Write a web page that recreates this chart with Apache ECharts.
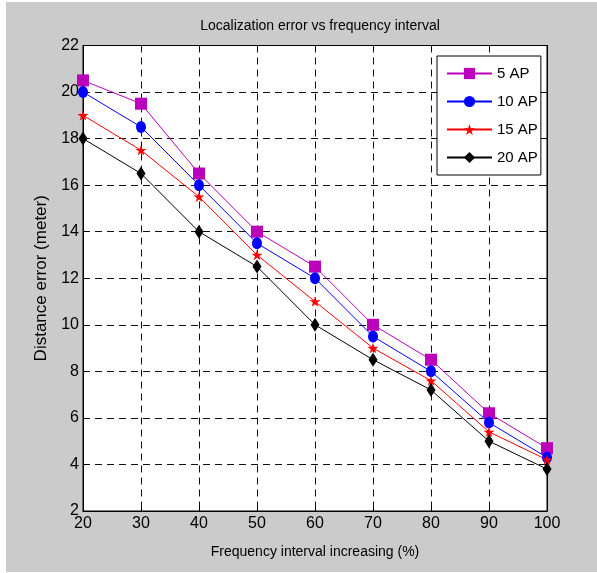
<!DOCTYPE html>
<html>
<head>
<meta charset="utf-8">
<script src="https://cdn.jsdelivr.net/npm/echarts@6/dist/echarts.min.js"></script>
<style>
  html, body { margin: 0; padding: 0; background: #ffffff; }
  #chart { position: absolute; left: 6px; top: 2px; width: 591px; height: 570px; background: #cbcbcb; }
</style>
</head>
<body>
<div id="chart"></div>
<script>
// Frequency interval increase (%) on the x axis
const intervals = [20, 30, 40, 50, 60, 70, 80, 90, 100];
// Distance error (meter) for each number of access points
const ap5 = [20.5, 19.5, 16.5, 14, 12.5, 10, 8.5, 6.2, 4.7];
const ap10 = [20, 18.5, 16, 13.5, 12, 9.5, 8, 5.8, 4.3];
const ap15 = [19, 17.5, 15.5, 13, 11, 9, 7.6, 5.4, 4.2];
const ap20 = [18, 16.5, 14, 12.5, 10, 8.5, 7.2, 5.0, 3.8];
const seriesNames = ['5 AP', '10 AP', '15 AP', '20 AP'];

const FONT = '"Liberation Sans", Arial, sans-serif';
const STAR = 'path://M50,0 L61,35 L98,35 L68,57 L79,91 L50,70 L21,91 L32,57 L2,35 L39,35 Z';

function pairs(ys) {
  return intervals.map((x, i) => [x, ys[i]]);
}

function lineSeries(name, ys, color, symbol, size) {
  return {
    name: name,
    type: 'line',
    data: pairs(ys),
    symbol: symbol,
    symbolSize: size,
    symbolKeepAspect: true,
    showAllSymbol: true,
    lineStyle: { color: color, width: 1 },
    itemStyle: { color: color, borderWidth: 0 },
    emphasis: { disabled: true },
    animation: false,
    z: 3
  };
}

const gridLine = { show: true, lineStyle: { color: '#111', width: 1, type: [7, 5] } };
const tickIn = { show: true, inside: true, length: 5, lineStyle: { color: '#000', width: 1 } };
const labelStyle = { color: '#000', fontFamily: FONT, fontSize: 16 };

const chart = echarts.init(document.getElementById('chart'), null, { renderer: 'canvas' });
chart.setOption({
  animation: false,
  title: {
    text: 'Localization error vs frequency interval',
    left: 309,
    top: 12,
    textAlign: 'center',
    textStyle: { fontFamily: FONT, fontSize: 14, fontWeight: 'normal', color: '#000' }
  },
  legend: {
    data: seriesNames,
    orient: 'vertical',
    left: 431,
    top: 54,
    itemWidth: 45,
    itemHeight: 14,
    itemGap: 13,
    padding: [10, 3, 10, 9],
    backgroundColor: '#ffffff',
    borderColor: '#000',
    borderWidth: 1,
    borderRadius: 0,
    textStyle: { color: '#000', fontFamily: FONT, fontSize: 15 }
  },
  grid: {
    left: 77,
    right: 50,
    top: 43.5,
    bottom: 61,
    show: true,
    backgroundColor: '#ffffff',
    borderColor: '#000',
    borderWidth: 1,
    containLabel: false
  },
  xAxis: [
    {
      type: 'value',
      min: 20,
      max: 100,
      interval: 10,
      position: 'bottom',
      name: 'Frequency interval increasing (%)',
      nameLocation: 'middle',
      nameGap: 34,
      nameTextStyle: { color: '#000', fontFamily: FONT, fontSize: 14 },
      axisLine: { show: true, lineStyle: { color: '#000', width: 1 } },
      axisTick: tickIn,
      axisLabel: Object.assign({ margin: 5 }, labelStyle),
      splitLine: gridLine
    },
    {
      type: 'value',
      min: 20,
      max: 100,
      interval: 10,
      position: 'top',
      axisLine: { show: true, lineStyle: { color: '#000', width: 1 } },
      axisTick: tickIn,
      axisLabel: { show: false },
      splitLine: { show: false }
    }
  ],
  yAxis: [
    {
      type: 'value',
      min: 2,
      max: 22,
      interval: 2,
      position: 'left',
      name: 'Distance error (meter)',
      nameLocation: 'middle',
      nameGap: 28,
      nameTextStyle: { color: '#000', fontFamily: FONT, fontSize: 17 },
      axisLine: { show: true, lineStyle: { color: '#000', width: 1 } },
      axisTick: tickIn,
      axisLabel: Object.assign({ margin: 4 }, labelStyle),
      splitLine: gridLine
    },
    {
      type: 'value',
      min: 2,
      max: 22,
      interval: 2,
      position: 'right',
      axisLine: { show: true, lineStyle: { color: '#000', width: 1 } },
      axisTick: tickIn,
      axisLabel: { show: false },
      splitLine: { show: false }
    }
  ],
  series: [
    lineSeries(seriesNames[0], ap5, '#bb00bb', 'rect', 12),
    lineSeries(seriesNames[1], ap10, '#0000ff', 'circle', [10, 12]),
    lineSeries(seriesNames[2], ap15, '#ff0000', STAR, 11),
    lineSeries(seriesNames[3], ap20, '#000000', 'diamond', [9, 14])
  ]
});
</script>
</body>
</html>
